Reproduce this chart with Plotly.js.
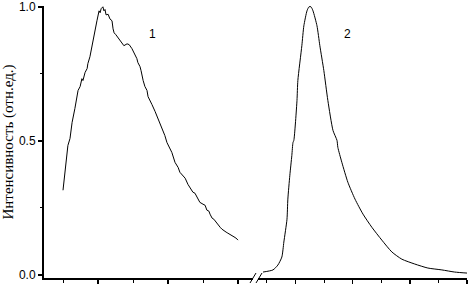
<!DOCTYPE html>
<html><head><meta charset="utf-8">
<script src="https://cdn.plot.ly/plotly-3.0.1.min.js"></script>
<style>html,body{margin:0;padding:0;background:#fff}#c{width:469px;height:284px}</style>
</head><body><div id="c"></div>
<script>
// Curve 1 (left segment of the broken x axis), arbitrary x units
const x1 = [1.00,1.06,1.11,1.14,1.20,1.26,1.34,1.40,1.43,1.49,1.54,1.57,1.63,1.69,1.71,1.77,1.80,1.86,1.89,1.94,1.97,2.03,2.06,2.09,2.14,2.17,2.20,2.23,2.29,2.34,2.40,2.43,2.46,2.51,2.57,2.63,2.69,2.74,2.83,2.89,2.97,3.03,3.06,3.11,3.14,3.20,3.23,3.26,3.29,3.34,3.40,3.43,3.49,3.54,3.63,3.69,3.77,3.83,3.91,3.97,4.06,4.11,4.20,4.29,4.34,4.43,4.49,4.57,4.63,4.71,4.77,4.86,4.91,5.00,5.06,5.11,5.17,5.20,5.26,5.31,5.37,5.43,5.49,5.54,5.60,5.66,5.71,5.77,5.83,5.89,5.94,6.00];
const y1 = [0.316,0.383,0.446,0.483,0.509,0.569,0.621,0.658,0.688,0.703,0.732,0.725,0.755,0.770,0.788,0.814,0.836,0.874,0.900,0.926,0.948,0.985,0.978,0.993,1.000,0.985,0.990,0.970,0.972,0.955,0.948,0.918,0.903,0.896,0.885,0.874,0.866,0.855,0.862,0.859,0.844,0.829,0.825,0.807,0.792,0.777,0.762,0.740,0.725,0.703,0.688,0.665,0.651,0.636,0.610,0.591,0.565,0.546,0.520,0.494,0.472,0.457,0.420,0.401,0.383,0.368,0.361,0.338,0.323,0.309,0.305,0.283,0.271,0.264,0.260,0.242,0.238,0.227,0.212,0.208,0.197,0.190,0.178,0.171,0.167,0.160,0.156,0.152,0.145,0.141,0.138,0.130];
// Curve 2 (right segment)
const x2 = [0.86,1.21,1.38,1.52,1.59,1.70,1.73,1.80,1.87,1.91,1.94,2.05,2.08,2.22,2.29,2.40,2.47,2.54,2.61,2.75,2.85,2.99,3.13,3.31,3.45,3.48,3.62,3.83,4.08,4.36,4.67,5.02,5.37,5.72,6.17,6.63,7.12,7.57,8.03];
const y2 = [0.011,0.019,0.037,0.067,0.123,0.208,0.283,0.372,0.446,0.494,0.502,0.651,0.725,0.855,0.929,0.985,1.000,1.000,0.985,0.929,0.855,0.762,0.651,0.539,0.502,0.476,0.420,0.346,0.283,0.227,0.178,0.130,0.086,0.059,0.041,0.026,0.019,0.011,0.007];
const yTicks = [0, 0.5, 1.0];
const yTickText = ['0.0', '0.5', '1.0'];
const curveLabels = ['1', '2'];
const yTitle = 'Интенсивность (отн.ед.)';

const data = [
  {x: x1, y: y1, xaxis: 'x', yaxis: 'y', mode: 'lines', line: {color: '#000', width: 1}, hoverinfo: 'skip'},
  {x: x2, y: y2, xaxis: 'x2', yaxis: 'y', mode: 'lines', line: {color: '#000', width: 1, shape: 'spline', smoothing: 0.6}, hoverinfo: 'skip'}
];
const L = 44, W = 423;
const xd1 = [0, (253 - L) / W], xd2 = [(258 - L) / W, 1];
const axCommon = {
  showline: true, linecolor: '#000', linewidth: 2, showgrid: false, zeroline: false,
  ticks: 'outside', ticklen: 5, tickwidth: 1.5, tickcolor: '#000', showticklabels: false,
  minor: {ticks: 'outside', ticklen: 3, tickwidth: 1, tickcolor: '#000', dtick: 1, tick0: 0, showgrid: false}
};
const layout = {
  width: 469, height: 284, margin: {l: L, r: 2, t: 6, b: 6},
  paper_bgcolor: '#fff', plot_bgcolor: '#fff', showlegend: false,
  xaxis: Object.assign({}, axCommon, {domain: xd1, range: [(L - 63) / 35 + 1, (253 - 63) / 35 + 1], dtick: 2, tick0: 0, anchor: 'y'}),
  xaxis2: Object.assign({}, axCommon, {domain: xd2, range: [(258 - 267) / 28.6 + 1, 8.0], dtick: 2, tick0: 0, anchor: 'y'}),
  yaxis: {
    range: [-3 / 269, 1.003], showline: true, linecolor: '#000', linewidth: 2, showgrid: false, zeroline: false,
    ticks: 'outside', ticklen: 4, tickwidth: 1.5, tickcolor: '#000', ticklabeloverflow: 'allow',
    tickvals: yTicks, ticktext: yTickText, tickfont: {family: 'Liberation Sans, Arial', size: 12, color: '#000'},
    minor: {ticks: 'outside', ticklen: 2, tickwidth: 1, tickcolor: '#000', dtick: 0.25, tick0: 0, showgrid: false},
    title: {text: yTitle, font: {family: 'Liberation Serif, Times New Roman', size: 15, color: '#000'}, standoff: 6},
    anchor: 'x'
  },
  annotations: [
    {xref: 'x', yref: 'y', x: (152 - 63) / 35 + 1, y: (275 - 33) / 269, text: curveLabels[0], showarrow: false, font: {family: 'Liberation Sans, Arial', size: 12, color: '#000'}},
    {xref: 'x2', yref: 'y', x: (348 - 267) / 28.6 + 1, y: (275 - 33) / 269, text: curveLabels[1], showarrow: false, font: {family: 'Liberation Sans, Arial', size: 12, color: '#000'}}
  ],
  shapes: [
    {type: 'line', xref: 'paper', yref: 'paper', x0: (250 - L) / W, x1: (256 - L) / W, y0: (278 - 283) / 272, y1: (278 - 273) / 272, line: {color: '#000', width: 1}},
    {type: 'line', xref: 'paper', yref: 'paper', x0: (256 - L) / W, x1: (262 - L) / W, y0: (278 - 283) / 272, y1: (278 - 273) / 272, line: {color: '#000', width: 1}}
  ]
};
Plotly.newPlot('c', data, layout, {staticPlot: true, displayModeBar: false});
</script></body></html>
